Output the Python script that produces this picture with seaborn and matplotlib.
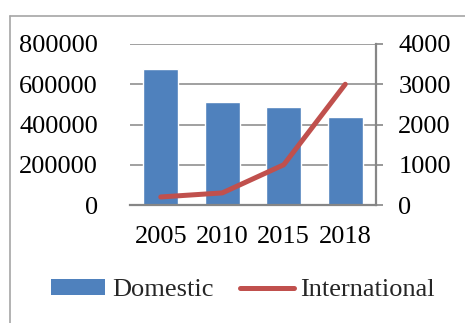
import matplotlib
matplotlib.use("Agg")
import matplotlib.pyplot as plt
from matplotlib.patches import Patch
from matplotlib.lines import Line2D
import seaborn as sns
import pandas as pd

years = ["2005", "2010", "2015", "2018"]
domestic = [675000, 510000, 487000, 437000]
international = [200, 300, 1000, 3000]
left_ticks = [0, 200000, 400000, 600000, 800000]
right_ticks = [0, 1000, 2000, 3000, 4000]

blue = "#4F81BD"
red = "#C0504D"
grid_gray = "#868686"

sns.set_theme(style="white")
plt.rcParams["font.family"] = ["Liberation Serif", "DejaVu Serif"]
plt.rcParams["font.size"] = 19

df = pd.DataFrame({"year": years, "domestic": domestic, "international": international})

fig = plt.figure(figsize=(4.65, 3.23), dpi=100)
ax = fig.add_axes([130 / 465, 1 - 205 / 323, (376 - 130) / 465, (205 - 44) / 323])
ax2 = ax.twinx()

# Domestic bars on the left axis
sns.barplot(data=df, x="year", y="domestic", color=blue, width=0.57,
            saturation=1, ax=ax, zorder=2)
ax.set_ylim(0, 800000)
ax.set_yticks(left_ticks)
ax.set_yticklabels([str(v) for v in left_ticks])
ax.set_xlabel("")
ax.set_ylabel("")
ax.grid(False)

# Horizontal gridlines across the category range, behind the bars
x0, x1 = ax.get_xlim()
ax.hlines(left_ticks, x0, x1, colors=grid_gray, linewidth=1.1, zorder=1)
ax.set_xlim(x0, x1)

# International line on the right axis
sns.pointplot(data=df, x="year", y="international", color=red, marker="",
              linestyle="-", linewidth=3.6, errorbar=None, ax=ax2)
ax2.lines[-1].set_solid_capstyle("round")
ax2.set_ylim(0, 4000)
ax2.set_yticks(right_ticks)
ax2.set_yticklabels([str(v) for v in right_ticks])
ax2.set_xlabel("")
ax2.set_ylabel("")
ax2.grid(False)
ax2.yaxis.set_ticks_position("right")

ax.tick_params(axis="y", left=False, right=False, pad=17,
               labelsize=19, colors="black")
ax.tick_params(axis="x", bottom=False, pad=9, labelsize=19, colors="black")
ax2.tick_params(axis="y", left=False, right=True, length=5, width=1.2,
                color=grid_gray, direction="out", pad=11, labelsize=19,
                labelcolor="black")

for a in (ax, ax2):
    for s in a.spines.values():
        s.set_visible(False)
ax.spines["bottom"].set_visible(True)
ax.spines["bottom"].set_color(grid_gray)
ax.spines["bottom"].set_linewidth(1.6)
ax2.spines["right"].set_visible(True)
ax2.spines["right"].set_color(grid_gray)
ax2.spines["right"].set_linewidth(1.6)

handles = [Patch(facecolor=blue, edgecolor="none"),
           Line2D([0], [0], color=red, linewidth=3.6, solid_capstyle="round")]
fig.legend(handles, ["Domestic", "International"], loc="center",
           bbox_to_anchor=(243 / 465, 1 - 290 / 323), ncol=2, frameon=False,
           fontsize=19, handlelength=2.05, handleheight=0.55,
           handletextpad=0.25, columnspacing=1.0, borderpad=0)

# Outer chart-area border (left and top edges)
bx, by = 9.5 / 465, 1 - 15.5 / 323
fig.add_artist(Line2D([bx, bx], [0, by], transform=fig.transFigure,
                      color="#A6A6A6", linewidth=1.2))
fig.add_artist(Line2D([bx, 1], [by, by], transform=fig.transFigure,
                      color="#A6A6A6", linewidth=1.2))

fig.savefig("out.png", dpi=100, facecolor="white")
